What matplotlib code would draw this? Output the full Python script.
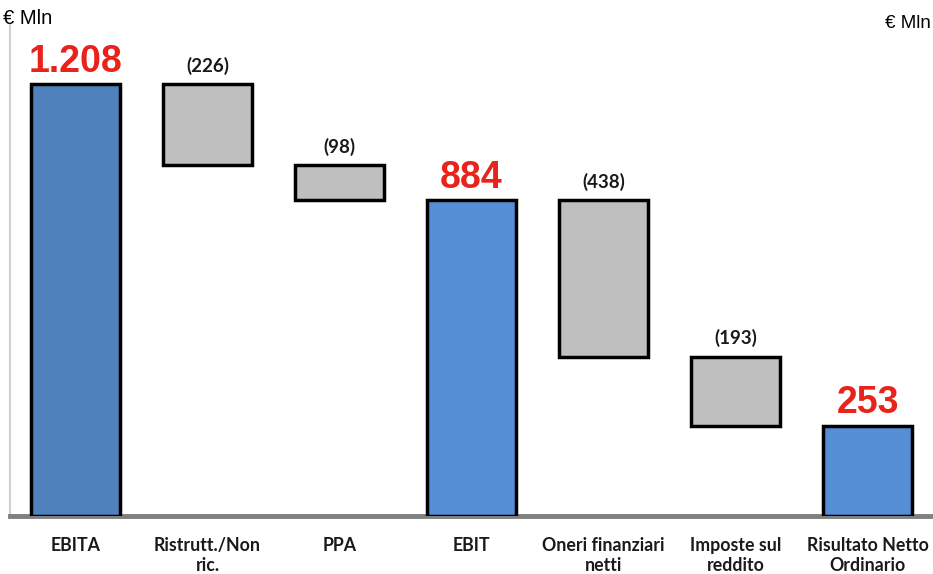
import matplotlib.pyplot as plt
import numpy as np

# conto economico: EBITA -> risultato netto ordinario (€ Mln)
voci = ["EBITA", "Ristrutt./Non\nric.", "PPA", "EBIT",
        "Oneri finanziari\nnetti", "Imposte sul\nreddito", "Risultato Netto\nOrdinario"]
valori = [1208, -226, -98, 884, -438, -193, 253]
totale = [True, False, False, True, False, False, True]
etichette = ["1.208", "(226)", "(98)", "884", "(438)", "(193)", "253"]

fig = plt.figure(figsize=(9.33, 5.74), dpi=100)
ax = fig.add_axes([10 / 933, 58 / 574, 923 / 933, 491 / 574])

x = np.arange(len(voci))
livello = 0
for i, v in enumerate(valori):
    if totale[i]:
        base, alto = 0, v
        livello = v
        colore = "#4F81BD" if i == 0 else "#558ED5"
    else:
        alto = livello
        base = livello + v
        livello = base
        colore = "#BFBFBF"
    ax.bar(x[i], alto - base, 0.667, bottom=base, color=colore,
           edgecolor="black", linewidth=2.5, zorder=3)
    if totale[i]:
        ax.text(x[i], alto + 12, etichette[i], ha="center", va="bottom",
                color="#E8231B", fontsize=27, fontweight="bold",
                family="Liberation Sans")
    else:
        ax.text(x[i], alto + 26, etichette[i], ha="center", va="bottom",
                color="#1a1a1a", fontsize=13.5, fontweight="bold", family="Lato")

ax.set_xlim(-0.496, 6.496)
ax.set_ylim(0, 1373)
ax.set_xticks(x)
ax.set_xticklabels(voci, fontsize=12.8, fontweight="bold", family="Lato",
                   color="#1a1a1a", linespacing=1.2)
ax.tick_params(axis="x", length=0, pad=15)
ax.set_yticks([])
for s in ["top", "right"]:
    ax.spines[s].set_visible(False)
ax.spines["bottom"].set_color("#808080")
ax.spines["bottom"].set_linewidth(3.5)
ax.spines["left"].set_color("#D0D0D0")
ax.spines["left"].set_linewidth(1.5)

fig.text(3 / 933, 1 - 18 / 574, "€ Mln", fontsize=14.5, family="Liberation Sans",
         va="center", ha="left")
fig.text(931 / 933, 1 - 23 / 574, "€ Mln", fontsize=13.5, family="Liberation Sans",
         va="center", ha="right")

fig.savefig("out.png", dpi=100)
